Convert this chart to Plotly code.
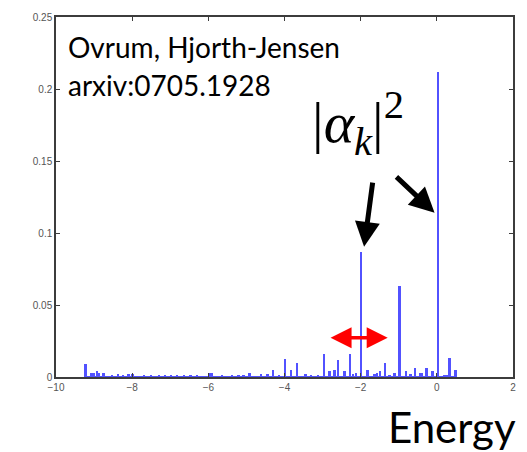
import plotly.graph_objects as go

# Eigen-energies and squared overlaps |alpha_k|^2
energy = [
    -9.22, -9.07, -9.01, -8.92, -8.87, -8.75, -8.53, -8.37, -8.24, -8.09, -7.98,
    -7.68, -7.50, -7.29, -7.13, -6.98, -6.81, -6.63, -6.46, -6.29, -5.96, -5.90,
    -5.64, -5.37, -5.20, -5.07, -4.91, -4.61, -4.44, -4.29, -4.14, -3.98, -3.82,
    -3.67, -3.44, -3.29, -3.11, -2.96, -2.81, -2.68, -2.59, -2.42, -2.27, -2.20,
    -2.11, -1.99, -1.81, -1.63, -1.56, -1.49, -1.36, -1.24, -1.11, -0.97, -0.81,
    -0.68, -0.56, -0.44, -0.40, -0.27, -0.11, 0.03, 0.19, 0.26, 0.34, 0.50,
]
weight = [
    0.0090, 0.0030, 0.0025, 0.0040, 0.0030, 0.0025, 0.0012, 0.0020, 0.0015, 0.0018, 0.0020,
    0.0010, 0.0010, 0.0010, 0.0010, 0.0008, 0.0008, 0.0008, 0.0008, 0.0010, 0.0030, 0.0025,
    0.0008, 0.0008, 0.0010, 0.0012, 0.0025, 0.0020, 0.0020, 0.0050, 0.0010, 0.0128, 0.0050,
    0.0098, 0.0020, 0.0010, 0.0010, 0.0157, 0.0040, 0.0050, 0.0117, 0.0040, 0.0157, 0.0020,
    0.0030, 0.0870, 0.0050, 0.0020, 0.0030, 0.0040, 0.0095, 0.0010, 0.0025, 0.0630, 0.0040,
    0.0020, 0.0065, 0.0030, 0.0025, 0.0065, 0.0040, 0.2120, 0.0010, 0.0012, 0.0130, 0.0050,
]

x_ticks = [-10, -8, -6, -4, -2, 0, 2]
x_tick_text = ["\u221210", "\u22128", "\u22126", "\u22124", "\u22122", "0", "2"]
y_ticks = [0, 0.05, 0.1, 0.15, 0.2, 0.25]
y_tick_text = ["0", "0.05", "0.1", "0.15", "0.2", "0.25"]

STEM = "#5252ff"
AXIS = "#3c3c3c"

fig = go.Figure()

# baseline of the stem plot
fig.add_trace(go.Scatter(
    x=[min(energy), max(energy)], y=[0, 0], mode="lines",
    line=dict(color=STEM, width=2), hoverinfo="skip", showlegend=False,
))

fig.add_trace(go.Bar(
    x=energy, y=weight, width=0.05,
    marker=dict(color=STEM, line=dict(width=0)),
    showlegend=False,
))

tick_font = dict(family="Liberation Sans, Arial, sans-serif", size=10, color="#555555")
fig.update_xaxes(
    range=[-10, 2], tickvals=x_ticks, ticktext=x_tick_text,
    ticks="inside", ticklen=4, tickcolor=AXIS, tickfont=tick_font,
    showline=True, linecolor=AXIS, linewidth=1.5, mirror="ticks",
    showgrid=False, zeroline=False,
)
fig.update_yaxes(
    range=[0, 0.25], tickvals=y_ticks, ticktext=y_tick_text,
    ticks="inside", ticklen=4, tickcolor=AXIS, tickfont=tick_font,
    showline=True, linecolor=AXIS, linewidth=1.5, mirror="ticks",
    showgrid=False, zeroline=False,
)

label_font = dict(family="Lato", size=28, color="black")
annotations = [
    dict(text="Ovrum, Hjorth-Jensen", x=0.022, y=0.916, xref="paper", yref="paper",
         xanchor="left", yanchor="middle", showarrow=False, font=label_font),
    dict(text="arxiv:0705.1928", x=0.022, y=0.811, xref="paper", yref="paper",
         xanchor="left", yanchor="middle", showarrow=False, font=label_font),
    dict(text="Energy", x=1.01, y=-0.14, xref="paper", yref="paper",
         xanchor="right", yanchor="middle", showarrow=False,
         font=dict(family="Lato", size=42, color="black")),
    dict(text="|<i>\u03b1<sub>k</sub></i>|<sup>2</sup>", x=0.66, y=0.705,
         xref="paper", yref="paper", xanchor="center", yanchor="middle",
         showarrow=False,
         font=dict(family="serif", size=58, color="black")),
    # black pointers to the two largest weights
    dict(x=-1.91, y=0.0904, ax=-1.68, ay=0.136, xref="x", yref="y", axref="x", ayref="y",
         text="", showarrow=True, arrowhead=2, arrowsize=1.0, arrowwidth=5,
         arrowcolor="black"),
    dict(x=-0.06, y=0.114, ax=-1.10, ay=0.140, xref="x", yref="y", axref="x", ayref="y",
         text="", showarrow=True, arrowhead=2, arrowsize=1.0, arrowwidth=5,
         arrowcolor="black"),
    # red double arrow marking the level spacing
    dict(x=-1.29, y=0.0272, ax=-2.83, ay=0.0272, xref="x", yref="y", axref="x", ayref="y",
         text="", showarrow=True, arrowhead=2, startarrowhead=2, arrowside="end+start",
         arrowsize=1.2, startarrowsize=1.2, arrowwidth=3.5, arrowcolor="#ff0000"),
]

fig.update_layout(
    width=527, height=452,
    margin=dict(l=56, r=11, t=13, b=75),
    paper_bgcolor="white", plot_bgcolor="white",
    annotations=annotations, bargap=0,
)

fig.write_html("out.html")
